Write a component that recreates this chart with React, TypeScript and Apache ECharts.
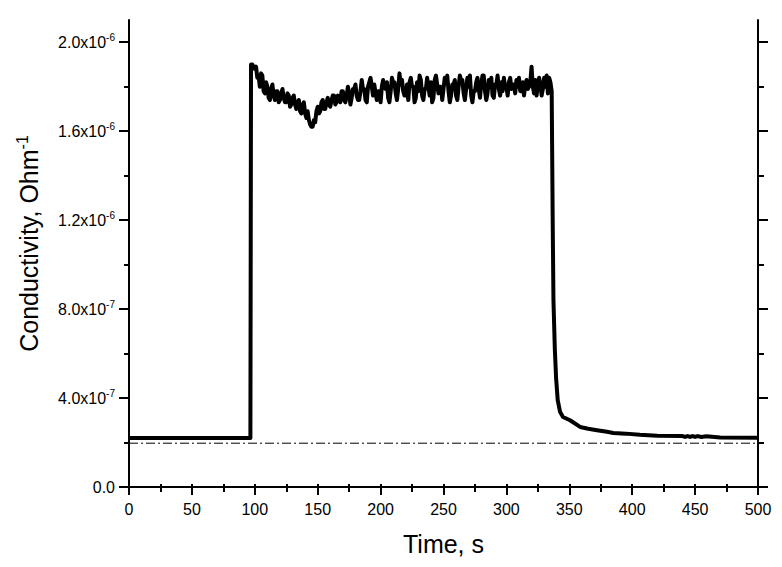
import React, { useEffect, useRef } from "react";
import * as echarts from "echarts";

// Time (s) and conductivity (Ohm^-1)
const baselineTimes = [0, 96.5];
const baselineValues = [2.2e-7, 2.2e-7];

const plateauStart = 97; // first second of plateau samples (1 s step)
const plateauValues = [
  1.90, 1.90, 1.89, 1.88, 1.89, 1.84, 1.85, 1.80, 1.86, 1.85,
  1.78, 1.77, 1.82, 1.80, 1.75, 1.74, 1.79, 1.81, 1.76, 1.74,
  1.78, 1.78, 1.73, 1.74, 1.77, 1.79, 1.75, 1.73, 1.73, 1.77,
  1.76, 1.71, 1.72, 1.75, 1.76, 1.72, 1.70, 1.73, 1.74, 1.69,
  1.68, 1.72, 1.73, 1.68, 1.66, 1.69, 1.65, 1.63, 1.62, 1.62,
  1.65, 1.64, 1.69, 1.71, 1.68, 1.69, 1.73, 1.74, 1.70, 1.70,
  1.73, 1.75, 1.72, 1.71, 1.74, 1.76, 1.76, 1.72, 1.73, 1.76,
  1.75, 1.73, 1.78, 1.78, 1.74, 1.73, 1.76, 1.80, 1.77, 1.72,
  1.75, 1.79, 1.79, 1.81, 1.76, 1.74, 1.74, 1.78, 1.83, 1.79,
  1.79, 1.74, 1.73, 1.80, 1.82, 1.84, 1.80, 1.76, 1.81, 1.77,
  1.74, 1.78, 1.78, 1.73, 1.80, 1.83, 1.80, 1.79, 1.82, 1.75,
  1.73, 1.78, 1.84, 1.82, 1.82, 1.77, 1.74, 1.79, 1.86, 1.81,
  1.83, 1.78, 1.76, 1.76, 1.81, 1.74, 1.82, 1.84, 1.80, 1.80,
  1.73, 1.75, 1.82, 1.78, 1.85, 1.83, 1.76, 1.74, 1.79, 1.79,
  1.84, 1.80, 1.76, 1.82, 1.73, 1.75, 1.83, 1.85, 1.81, 1.77,
  1.80, 1.80, 1.74, 1.79, 1.84, 1.82, 1.85, 1.78, 1.73, 1.76,
  1.81, 1.81, 1.83, 1.76, 1.74, 1.80, 1.85, 1.83, 1.83, 1.77,
  1.74, 1.79, 1.84, 1.80, 1.85, 1.76, 1.73, 1.78, 1.78, 1.82,
  1.84, 1.79, 1.75, 1.81, 1.85, 1.85, 1.78, 1.74, 1.77, 1.83,
  1.80, 1.84, 1.76, 1.75, 1.81, 1.81, 1.85, 1.79, 1.76, 1.82,
  1.78, 1.84, 1.80, 1.80, 1.76, 1.82, 1.84, 1.79, 1.81, 1.81,
  1.77, 1.83, 1.80, 1.84, 1.78, 1.78, 1.82, 1.76, 1.81, 1.83,
  1.79, 1.80, 1.82, 1.89, 1.80, 1.77, 1.83, 1.76, 1.81, 1.84,
  1.81, 1.76, 1.79, 1.84, 1.80, 1.85, 1.77, 1.84, 1.82, 1.78,
]; // x 1e-6

const decayTimes = [336.8, 337.4, 338.5, 339.5, 340.8, 342.7, 345, 350.6, 358.6, 365, 372, 380, 385, 395, 406, 420, 440, 442, 444, 446, 448, 450, 452, 455, 459, 470, 500];
const decayValues = [1.2, 0.84, 0.62, 0.49, 0.39, 0.337, 0.315, 0.30, 0.27, 0.262, 0.255, 0.248, 0.243, 0.24, 0.235, 0.231, 0.229, 0.225, 0.229, 0.225, 0.229, 0.225, 0.229, 0.225, 0.228, 0.223, 0.222]; // x 1e-6

const referenceLevel = 1.97e-7;

const yMajorTicks = [0, 4e-7, 8e-7, 1.2e-6, 1.6e-6, 2.0e-6];
const yMinorTicks = [2e-7, 6e-7, 1.0e-6, 1.4e-6, 1.8e-6];

const FONT = "'Liberation Sans', Arial, sans-serif";

function fmtSci(v: number): string {
  if (v === 0) return "{m|0.0}";
  const e = Math.floor(Math.log10(v) + 1e-9);
  const m = v / Math.pow(10, e);
  return `{m|${m.toFixed(1)}x10}{e|${e}}`;
}

export default function App() {
  const ref = useRef<HTMLDivElement>(null);
  useEffect(() => {
    if (!ref.current) return;
    const chart = echarts.init(ref.current, null, { renderer: "svg" });

    const mainData: [number, number][] = [];
    baselineTimes.forEach((t, i) => mainData.push([t, baselineValues[i]]));
    plateauValues.forEach((v, i) => mainData.push([plateauStart + i, v * 1e-6]));
    decayTimes.forEach((t, i) => mainData.push([t, decayValues[i] * 1e-6]));

    const axisLine = { show: true, lineStyle: { color: "#000", width: 2 } };
    const richLabel = {
      m: { fontSize: 16, fontFamily: FONT, color: "#000" },
      e: { fontSize: 10, fontFamily: FONT, color: "#000", padding: [0, 0, 10, 0] },
    };

    chart.setOption({
      animation: false,
      grid: { left: 129, right: 24, top: 20, bottom: 80 },
      xAxis: [
        {
          type: "value",
          position: "bottom",
          min: 0,
          max: 500,
          interval: 50,
          axisLine,
          axisTick: { show: true, length: 8, lineStyle: { width: 2, color: "#000" } },
          minorTick: { show: true, splitNumber: 2, length: 5, lineStyle: { width: 2, color: "#000" } },
          splitLine: { show: false },
          axisLabel: { margin: 14, fontSize: 16, fontFamily: FONT, color: "#000" },
          name: "Time, s",
          nameLocation: "middle",
          nameGap: 44,
          nameTextStyle: { fontSize: 25, fontFamily: FONT, color: "#000" },
        },
        {
          type: "value",
          position: "top",
          min: 0,
          max: 500,
          interval: 25,
          axisLine,
          axisTick: { show: true, length: 3, lineStyle: { width: 2, color: "#000" } },
          axisLabel: { show: false },
          splitLine: { show: false },
        },
      ],
      yAxis: [
        {
          type: "value",
          position: "left",
          min: 0,
          max: 2.1e-6,
          axisLine,
          axisTick: { show: true, length: 10, customValues: yMajorTicks, lineStyle: { width: 2, color: "#000" } },
          axisLabel: {
            customValues: yMajorTicks,
            margin: 14,
            formatter: (v: number) => fmtSci(v),
            rich: richLabel,
          },
          splitLine: { show: false },
          name: "Conductivity, Ohm{e|-1}",
          nameLocation: "middle",
          nameGap: 85,
          nameTextStyle: {
            fontSize: 25,
            fontFamily: FONT,
            color: "#000",
            padding: [0, 0, 0, 20],
            rich: { e: { fontSize: 16, fontFamily: FONT, color: "#000", padding: [0, 0, 14, 0] } },
          },
        },
        {
          type: "value",
          position: "left",
          min: 0,
          max: 2.1e-6,
          axisLine: { show: false },
          axisTick: { show: true, length: 5, customValues: yMinorTicks, lineStyle: { width: 2, color: "#000" } },
          axisLabel: { show: false },
          splitLine: { show: false },
        },
        {
          type: "value",
          position: "right",
          min: 0,
          max: 2.1e-6,
          axisLine,
          axisTick: { show: true, length: 10, customValues: yMajorTicks, lineStyle: { width: 2, color: "#000" } },
          axisLabel: { show: false },
          splitLine: { show: false },
        },
        {
          type: "value",
          position: "right",
          min: 0,
          max: 2.1e-6,
          axisLine: { show: false },
          axisTick: { show: true, length: 6, customValues: yMinorTicks, lineStyle: { width: 2, color: "#000" } },
          axisLabel: { show: false },
          splitLine: { show: false },
        },
      ],
      series: [
        {
          type: "line",
          xAxisIndex: 0,
          yAxisIndex: 0,
          data: [[0, referenceLevel], [500, referenceLevel]],
          showSymbol: false,
          lineStyle: { color: "#000", width: 1, type: [9, 3, 2, 3] },
          silent: true,
          z: 1,
        },
        {
          type: "line",
          xAxisIndex: 0,
          yAxisIndex: 0,
          data: mainData,
          showSymbol: false,
          lineStyle: { color: "#000", width: 4, join: "round" },
          silent: true,
          z: 2,
        },
      ],
    });
    return () => chart.dispose();
  }, []);
  return <div ref={ref} style={{ width: 782, height: 567, margin: -8 }} />;
}
